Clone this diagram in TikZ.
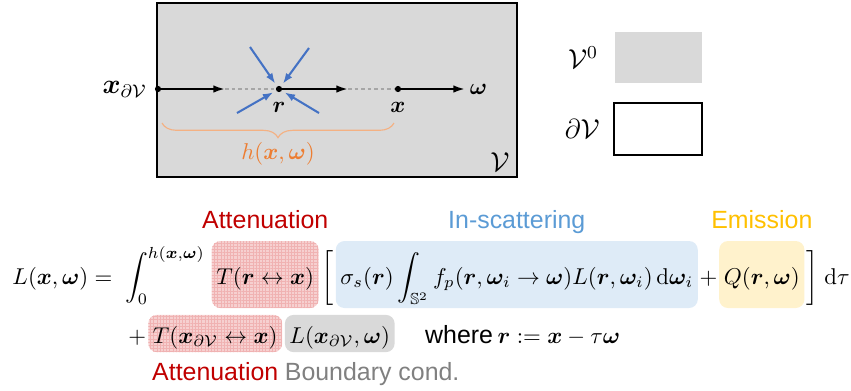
\documentclass[tikz,border=0pt]{standalone}
\usepackage{amsmath,amssymb,bm}
\usepackage{fontspec}
\newfontfamily\labelfont{Liberation Sans}
\usetikzlibrary{positioning, arrows.meta, decorations.pathreplacing, patterns.meta, calc}
\definecolor{attRed}{RGB}{192,0,0}
\definecolor{attFill}{RGB}{246,208,208}
\definecolor{attGrid}{RGB}{240,178,178}
\definecolor{scatBlue}{RGB}{91,155,213}
\definecolor{scatFill}{RGB}{222,235,247}
\definecolor{emitGold}{RGB}{255,192,0}
\definecolor{emitFill}{RGB}{255,242,204}
\definecolor{bndGray}{RGB}{128,128,128}
\definecolor{volGray}{RGB}{217,217,217}
\definecolor{rayBlue}{RGB}{68,114,196}
\definecolor{hOrange}{RGB}{237,125,49}
\definecolor{braceOrange}{RGB}{244,177,131}
\newcommand{\vx}{\bm{x}}
\newcommand{\vr}{\bm{r}}
\newcommand{\vw}{\bm{\omega}}
\newcommand{\dV}{\partial\mathcal{V}}

\begin{document}
\begin{tikzpicture}[
    x=0.4375pt, y=-0.4375pt,
    font=\fontsize{10}{12}\selectfont,
    vol/.style={draw=black, fill=volGray, line width=0.9pt},
    dot/.style={circle, fill=black, inner sep=0pt, minimum size=2.7pt},
    ray/.style={line width=0.9pt, -{Latex[length=5.1pt,width=3.3pt]}},
    gap/.style={draw=black!35, line width=0.58pt, dash pattern=on 1.7pt off 1.15pt},
    scatray/.style={rayBlue, line width=0.9pt, -{Latex[length=4.6pt,width=3.3pt]}, shorten >=1.3pt},
    ptlabel/.style={inner sep=0pt},
    brace/.style={braceOrange, line width=0.5pt, decorate, decoration={brace, mirror, amplitude=6.4pt}},
    legbox/.style={rectangle, inner sep=0pt, minimum width=38.2pt, minimum height=22.4pt},
    eqpart/.style={inner sep=0pt, anchor=base west},
    term/.style={rectangle, rounded corners=3.8pt, inner xsep=2pt, inner ysep=0pt, anchor=base west},
    bigterm/.style={term, text height=18.8pt, text depth=10.5pt},
    smallterm/.style={term, text height=12.3pt, text depth=4pt},
    attn/.style={fill=attFill,
        postaction={pattern={Lines[distance=1.4pt, line width=0.25pt]}, pattern color=attGrid},
        postaction={pattern={Lines[angle=90, distance=1.4pt, line width=0.25pt]}, pattern color=attGrid}},
    scat/.style={fill=scatFill},
    emit/.style={fill=emitFill},
    bnd/.style={fill=volGray},
    tag/.style={font=\labelfont\fontsize{10.9}{13}\selectfont, inner sep=0pt, text depth=0pt},
    tagbelow/.style={tag, text height=7.8pt}
]
    \useasboundingbox (0,0) rectangle (851,390);

    % volume and ray
    \draw[vol] (157,3) rectangle (517,177);
    \node[dot] (xb) at (158,89) {};
    \node[dot] (r) at (279,89) {};
    \node[dot] (xp) at (398,89) {};
    \coordinate (tip1) at (225,89);
    \coordinate (tip2) at (348,89);
    \coordinate (tip3) at (465,89);
    \draw[gap] (tip1) -- (r);
    \draw[gap] (tip2) -- (xp);
    \draw[ray] (xb.center) -- (tip1);
    \draw[ray] (r.center) -- (tip2);
    \draw[ray] (xp.center) -- (tip3);

    % in-scattered directions
    \coordinate (s1) at (250,47);
    \coordinate (s2) at (309,48);
    \coordinate (s3) at (237,113);
    \coordinate (s4) at (319,113);
    \draw[scatray] (s1) -- (r);
    \draw[scatray] (s2) -- (r);
    \draw[scatray] (s3) -- (r);
    \draw[scatray] (s4) -- (r);

    \node[ptlabel, below=4.1pt of r] (rlab) {$\vr$};
    \node[ptlabel, below=4.1pt of xp] (xlab) {$\vx$};
    \node[ptlabel, left=3.2pt of xb] (xblab) {\large$\vx_{\dV}$};
    \node[ptlabel, right=1.9pt of tip3] (wlab) {$\vw$};
    \node[ptlabel] (vlab) at (500,162) {\large$\mathcal{V}$};

    \coordinate (hl) at (162,123);
    \coordinate (hr) at (394,123);
    \draw[brace] (hl) -- (hr) node[midway, below=8.3pt, text=hOrange, inner sep=0pt] (hlab) {$h(\vx,\vw)$};

    % legend
    \node[legbox, fill=volGray] (v0box) at (658.5,57.5) {};
    \node[legbox, draw=black, line width=0.9pt] (dvbox) at (658,129) {};
    \node[ptlabel, left=7pt of v0box] (v0lab) {\large$\mathcal{V}^0$};
    \node[ptlabel, left=5.8pt of dvbox] (dvlab) {\large$\dV$};

    % equation, first line
    \node[eqpart] (lhs) at (12,284) {$\displaystyle L(\vx,\vw) = \;\int_0^{h(\vx,\vw)}$};
    \node[bigterm, attn] (att1) at ([xshift=2.6pt]lhs.base east) {$T(\vr\leftrightarrow\vx)$};
    \node[eqpart] (lbrk) at ([xshift=1pt]att1.base east) {$\bigg[$};
    \node[bigterm, scat] (scat1) at ([xshift=0.4pt]lbrk.base east) {$\displaystyle \sigma_s(\vr)\int_{\mathbb{S}^2} f_p(\vr,\vw_i\to\vw)L(\vr,\vw_i)\,\mathrm{d}\vw_i$};
    \node[eqpart] (plus1) at ([xshift=0.4pt]scat1.base east) {$+$};
    \node[bigterm, emit] (emit1) at ([xshift=0.4pt]plus1.base east) {$Q(\vr,\vw)$};
    \node[eqpart] (rbrk) at ([xshift=0.3pt]emit1.base east) {$\bigg]\;\mathrm{d}\tau$};

    \node[tag, text=attRed, above=4.9pt of att1] (attlab1) {Attenuation};
    \node[tag, text=scatBlue, above=4.9pt of scat1] (scatlab) {In-scattering};
    \node[tag, text=emitGold, above=4.9pt of emit1] (emitlab) {Emission};

    % equation, second line
    \node[eqpart] (plus2) at (128,343) {$+$};
    \node[smallterm, attn] (att2) at ([xshift=0.5pt]plus2.base east) {$T(\vx_{\dV}\leftrightarrow\vx)$};
    \node[smallterm, bnd] (bnd1) at ([xshift=0.8pt]att2.base east) {$L(\vx_{\dV},\vw)$};
    \node[eqpart] (where) at ([xshift=13pt]bnd1.base east) {{\labelfont\fontsize{10.9}{13}\selectfont where}\hspace{2pt}$\vr := \vx - \tau\vw$};

    \node[tagbelow, text=attRed, below=4.4pt of att2] (attlab2) {Attenuation};
    \node[tagbelow, text=bndGray, below=4.4pt of bnd1.south west, anchor=north west] (bndlab) {Boundary cond.};
\end{tikzpicture}
\end{document}
